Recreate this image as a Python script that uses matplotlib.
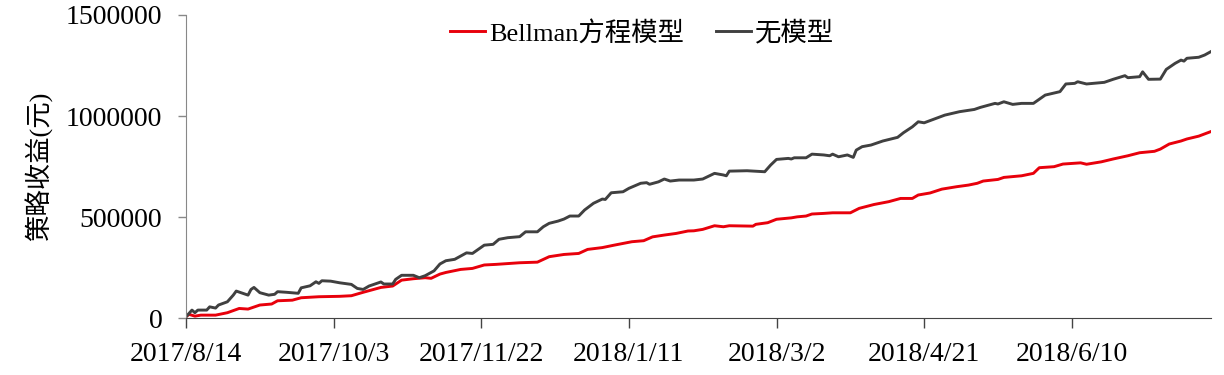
import datetime as dt
import matplotlib
matplotlib.use("Agg")
import matplotlib.pyplot as plt
import matplotlib.dates as mdates
from matplotlib.ticker import FuncFormatter, MultipleLocator

plt.rcParams['font.family'] = ['Liberation Serif', 'Noto Sans CJK SC']

start = dt.date(2017, 8, 14)
end_day = 347

# days since 2017/8/14, cumulative strategy income (yuan)
free_days = [0, 2, 3, 4, 7, 8, 10, 11, 14, 16, 17, 19, 21, 22, 23, 25, 28, 30, 31, 34,
             38, 39, 42, 44, 45, 46, 49, 52, 56, 58, 60, 62, 66, 67, 70, 71, 73, 77, 79, 81,
             84, 86, 88, 91, 95, 97, 101, 104, 106, 109, 113, 115, 119, 121, 123, 126, 128, 130, 133, 135,
             138, 141, 142, 144, 148, 150, 154, 156, 157, 160, 162, 164, 167, 172, 175, 179, 182, 183, 184, 190,
             196, 198, 200, 204, 205, 206, 210, 212, 216, 218, 219, 221, 224, 226, 227, 229, 232, 236, 241, 243,
             246, 248, 250, 254, 257, 262, 267, 269, 274, 275, 277, 280, 283, 287, 291, 295, 296, 298, 301, 302,
             305, 311, 314, 318, 319, 323, 324, 326, 330, 332, 335, 337, 338, 339, 343, 345, 347]
free_vals = [8000, 41000, 28000, 41000, 41000, 57000, 51000, 66000, 82000, 115000,
             135000, 125000, 115000, 143000, 153000, 127000, 115000, 119000, 132000, 129000,
             124000, 151000, 161000, 181000, 173000, 186000, 184000, 176000, 168000, 148000,
             143000, 160000, 180000, 170000, 170000, 193000, 213000, 213000, 201000, 211000,
             235000, 269000, 285000, 292000, 324000, 321000, 362000, 366000, 391000, 399000,
             404000, 428000, 428000, 453000, 470000, 481000, 491000, 506000, 506000, 536000,
             569000, 590000, 588000, 621000, 626000, 643000, 668000, 671000, 663000, 675000,
             689000, 679000, 684000, 684000, 689000, 717000, 709000, 705000, 728000, 730000,
             725000, 758000, 786000, 791000, 788000, 794000, 794000, 812000, 808000, 804000,
             812000, 799000, 808000, 796000, 832000, 849000, 857000, 877000, 895000, 918000,
             947000, 972000, 967000, 989000, 1005000, 1022000, 1033000, 1043000, 1063000, 1060000,
             1071000, 1058000, 1063000, 1063000, 1104000, 1118000, 1121000, 1159000, 1162000, 1170000,
             1159000, 1167000, 1182000, 1200000, 1190000, 1195000, 1219000, 1182000, 1183000, 1231000,
             1261000, 1277000, 1272000, 1286000, 1291000, 1302000, 1318000]

bell_days = [0, 1, 3, 5, 10, 14, 18, 21, 25, 29, 31, 36, 39, 45, 52, 56, 60, 66, 70, 73,
             77, 81, 83, 86, 88, 93, 97, 101, 105, 110, 113, 119, 123, 128, 133, 136, 141, 145, 151, 155,
             158, 162, 166, 170, 172, 175, 179, 182, 184, 192, 193, 197, 200, 205, 207, 210, 212, 216, 219, 225,
             228, 233, 238, 242, 246, 248, 252, 256, 261, 265, 268, 270, 275, 277, 283, 287, 289, 294, 297, 303,
             305, 310, 314, 319, 323, 328, 330, 333, 337, 339, 343, 347]
bell_vals = [8000, 20000, 11000, 16000, 16000, 28000, 49000, 46000, 66000, 71000,
             87000, 90000, 102000, 107000, 109000, 112000, 129000, 153000, 160000, 189000,
             196000, 201000, 198000, 219000, 227000, 242000, 247000, 264000, 267000, 272000,
             275000, 278000, 305000, 316000, 321000, 341000, 350000, 362000, 379000, 384000,
             403000, 412000, 420000, 432000, 433000, 440000, 458000, 453000, 458000, 456000,
             465000, 473000, 490000, 497000, 502000, 506000, 516000, 519000, 522000, 522000,
             544000, 563000, 577000, 593000, 593000, 610000, 620000, 639000, 651000, 659000,
             668000, 679000, 687000, 697000, 705000, 717000, 745000, 750000, 763000, 769000,
             762000, 774000, 788000, 804000, 819000, 826000, 837000, 862000, 877000, 887000,
             901000, 923000]

series_names = ['Bellman方程模型', '无模型']
series_colors = ['#e8000b', '#404040']


def to_dates(days):
    return [start + dt.timedelta(days=d) for d in days]


fig = plt.figure(figsize=(12.24, 3.75), dpi=100)
ax = fig.add_axes([0.152, 0.151, 0.837, 0.809])

ax.plot(to_dates(bell_days), bell_vals, color=series_colors[0], lw=2.1, label=series_names[0])
ax.plot(to_dates(free_days), free_vals, color=series_colors[1], lw=2.1, label=series_names[1])

ax.set_xlim(start, start + dt.timedelta(days=end_day))
ax.set_ylim(0, 1500000)

# x ticks every 50 days from the start date
ticks = [start + dt.timedelta(days=50 * i) for i in range(7)]
ax.set_xticks(ticks)
ax.xaxis.set_major_formatter(FuncFormatter(
    lambda v, pos: (lambda d: f"{d.year}/{d.month}/{d.day}")(mdates.num2date(v))))
ax.yaxis.set_major_locator(MultipleLocator(500000))
ax.yaxis.set_major_formatter(FuncFormatter(lambda v, pos: f"{int(v)}"))

for s in ['top', 'right']:
    ax.spines[s].set_visible(False)
ax.spines['left'].set_color('#888888')
ax.spines['bottom'].set_color('#444444')
ax.tick_params(axis='y', direction='out', length=6, width=1, color='#888888',
               labelsize=20, pad=11)
ax.tick_params(axis='x', direction='out', length=7, width=1, color='#444444',
               labelsize=20, pad=10)

ax.set_ylabel('策略收益(元)', fontsize=19, labelpad=9)

ax.legend(loc='upper center', bbox_to_anchor=(0.445, 1.06), ncol=2, frameon=False,
          fontsize=19, handlelength=1.35, handletextpad=0.15, columnspacing=1.2)

fig.savefig('out.png', dpi=100)
